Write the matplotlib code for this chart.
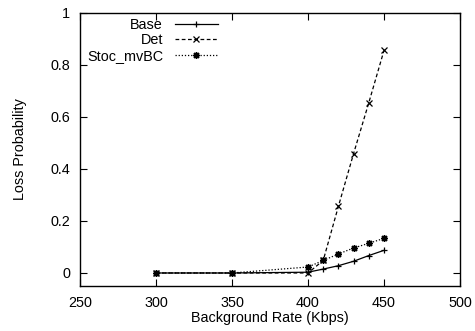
import matplotlib
matplotlib.use("Agg")
import matplotlib.pyplot as plt

plt.rcParams['font.family'] = ['Liberation Sans', 'DejaVu Sans']

rate = [300, 350, 400, 410, 420, 430, 440, 450]
base = [0.0, 0.0, 0.003, 0.015, 0.028, 0.045, 0.067, 0.087]
det = [0.0, 0.0, 0.0, 0.048, 0.256, 0.459, 0.654, 0.855]
stoc = [0.0, 0.0, 0.023, 0.048, 0.073, 0.096, 0.114, 0.133]

xticks = [250, 300, 350, 400, 450, 500]
yticks = [0, 0.2, 0.4, 0.6, 0.8, 1]
yticklabels = ['0', '0.2', '0.4', '0.6', '0.8', '1']

fs = 10.4
fig = plt.figure(figsize=(4.75, 3.31), dpi=100)
ax = fig.add_axes([80/475, 45/331, 380/475, 273.3/331])

star = (8, 2, 0)
ax.plot(rate, base, color='black', lw=0.9, ls='-', marker='+', ms=5, mew=0.9, label='Base')
ax.plot(rate, det, color='black', lw=0.9, ls=(0, (3, 2)), marker='x', ms=4, mew=0.9, label='Det')
ax.plot(rate, stoc, color='black', lw=0.9, ls=(0, (1, 1.5)), marker=star, ms=5, mew=1.0, label='Stoc_mvBC')

ax.set_xlim(250, 500)
ax.set_ylim(-0.05, 1)
ax.set_xticks(xticks)
ax.set_yticks(yticks)
ax.set_yticklabels(yticklabels)
ax.tick_params(direction='in', top=True, right=True, length=5, width=0.8, labelsize=fs)
ax.tick_params(axis='x', pad=7)
ax.tick_params(axis='y', pad=7)
for s in ax.spines.values():
    s.set_linewidth(1.0)

ax.set_xlabel('Background Rate (Kbps)', fontsize=fs, labelpad=1)
ax.set_ylabel('Loss Probability', fontsize=fs, labelpad=17)

leg = ax.legend(loc='upper right', bbox_to_anchor=(218/475, 1 - 18/331), bbox_transform=fig.transFigure,
                frameon=False, markerfirst=False, fontsize=fs, handlelength=3.0, numpoints=1,
                handletextpad=0.8, labelspacing=0.1, borderaxespad=0, borderpad=0)

fig.savefig('out.png', dpi=100)
